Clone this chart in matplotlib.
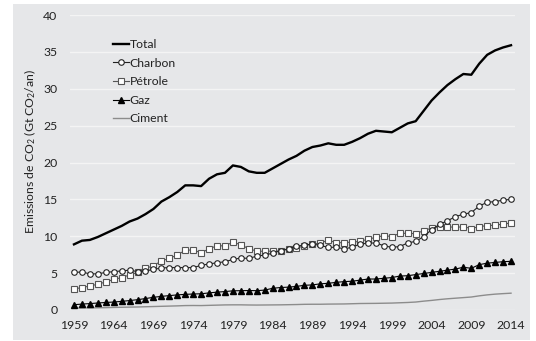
import matplotlib.pyplot as plt
import numpy as np
from matplotlib.patches import Rectangle

plt.rcParams['font.family'] = ['Lato', 'DejaVu Sans']
plt.rcParams['mathtext.fontset'] = 'custom'
plt.rcParams['mathtext.rm'] = 'Lato'
plt.rcParams['mathtext.it'] = 'Lato:italic'

###################### Data (Gt CO2 / an) ##########################

years = list(range(1959, 2015))

total = [8.9, 9.4, 9.5, 9.9, 10.4, 10.9, 11.4, 12.0, 12.4, 13.0,
         13.7, 14.7, 15.3, 16.0, 16.9, 16.9, 16.8, 17.8, 18.4, 18.6,
         19.6, 19.4, 18.8, 18.6, 18.6, 19.2, 19.8, 20.4, 20.9, 21.6,
         22.1, 22.3, 22.6, 22.4, 22.4, 22.8, 23.3, 23.9, 24.3, 24.2,
         24.1, 24.7, 25.3, 25.6, 27.0, 28.4, 29.5, 30.5, 31.3, 32.0,
         31.9, 33.4, 34.6, 35.2, 35.6, 35.9]

charbon = [5.1, 5.15, 4.9, 4.9, 5.1, 5.2, 5.3, 5.4, 5.2, 5.3,
           5.5, 5.7, 5.75, 5.75, 5.75, 5.75, 6.05, 6.25, 6.4, 6.55,
           6.85, 7.05, 7.0, 7.3, 7.45, 7.7, 8.05, 8.3, 8.65, 8.8,
           8.95, 8.75, 8.5, 8.5, 8.3, 8.5, 8.95, 9.05, 9.1, 8.7,
           8.5, 8.6, 9.1, 9.3, 9.95, 10.9, 11.6, 12.1, 12.65, 13.0,
           13.2, 14.1, 14.6, 14.7, 14.9, 15.0]

petrole = [2.85, 3.05, 3.25, 3.5, 3.8, 4.15, 4.4, 4.75, 5.1, 5.65,
           6.0, 6.65, 7.0, 7.45, 8.1, 8.15, 7.75, 8.3, 8.7, 8.7,
           9.2, 8.85, 8.3, 8.0, 7.95, 8.0, 8.0, 8.25, 8.4, 8.7,
           8.95, 9.05, 9.5, 9.1, 9.15, 9.2, 9.3, 9.6, 9.85, 10.1,
           9.95, 10.4, 10.4, 10.35, 10.75, 11.1, 11.3, 11.3, 11.2, 11.3,
           11.05, 11.3, 11.45, 11.5, 11.65, 11.8]

gaz = [0.72, 0.8, 0.87, 0.95, 1.02, 1.08, 1.17, 1.28, 1.4, 1.55,
       1.72, 1.85, 1.95, 2.05, 2.12, 2.17, 2.2, 2.32, 2.42, 2.5,
       2.6, 2.62, 2.64, 2.62, 2.7, 2.94, 3.05, 3.1, 3.2, 3.35,
       3.4, 3.55, 3.62, 3.75, 3.85, 3.9, 4.05, 4.2, 4.2, 4.3,
       4.4, 4.6, 4.65, 4.8, 4.95, 5.1, 5.25, 5.4, 5.55, 5.8,
       5.65, 6.15, 6.35, 6.45, 6.55, 6.6]

ciment = [0.25, 0.27, 0.28, 0.3, 0.32, 0.35, 0.37, 0.39, 0.41, 0.44,
          0.47, 0.5, 0.53, 0.56, 0.6, 0.61, 0.6, 0.63, 0.66, 0.69,
          0.7, 0.7, 0.68, 0.67, 0.68, 0.69, 0.7, 0.72, 0.74, 0.77,
          0.78, 0.78, 0.8, 0.81, 0.82, 0.85, 0.88, 0.89, 0.9, 0.92,
          0.94, 0.98, 1.02, 1.08, 1.2, 1.3, 1.42, 1.52, 1.6, 1.68,
          1.76, 1.92, 2.05, 2.15, 2.22, 2.28]

tick_years = years[::5]

###################### Figure ##########################

bg = '#e6e7e9'
fig = plt.figure(figsize=(5.36, 3.41), dpi=100, facecolor='white')
fig.add_artist(Rectangle((13 / 536, 1 - 340 / 341), 517 / 536, 336 / 341,
                         transform=fig.transFigure, facecolor=bg,
                         edgecolor='none', zorder=-10))
ax = fig.add_axes([70 / 536, 1 - 310 / 341, 445 / 536, 295 / 341])
ax.set_facecolor('none')

x = np.arange(len(years))
ax.plot(x, total, color='black', lw=1.7, label='Total', zorder=5)
ax.plot(x, charbon, color='#222222', lw=0.8, marker='o', ms=4,
        mfc='white', mec='#222222', mew=0.8, label='Charbon', zorder=4)
ax.plot(x, petrole, color='#555555', lw=0.8, marker='s', ms=5,
        mfc='white', mec='#555555', mew=0.8, label='Pétrole', zorder=3)
ax.plot(x, gaz, color='black', lw=0.8, marker='^', ms=4,
        mfc='black', mec='black', label='Gaz', zorder=4)
ax.plot(x, ciment, color='#8c8c8c', lw=1.0, label='Ciment', zorder=2)

ax.set_xlim(-0.5, len(years) - 0.5)
ax.set_ylim(0, 40)
ax.set_yticks(range(0, 41, 5))
ax.set_xticks([years.index(y) for y in tick_years])
ax.set_xticklabels([str(y) for y in tick_years])
ax.tick_params(axis='both', length=0, labelsize=8.8, colors='#222222')
ax.tick_params(axis='y', pad=9)
ax.tick_params(axis='x', pad=7)
ax.grid(axis='y', color='#f4f4f4', lw=1)
ax.set_axisbelow(True)
for s in ax.spines.values():
    s.set_visible(False)

fig.text(30 / 536, 1 - 151 / 341, 'Emissions de CO$_2$ (Gt CO$_2$/an)',
         rotation=90, ha='center', va='center', fontsize=8.8, color='#222222')

leg = ax.legend(loc='upper left', bbox_to_anchor=(0.085, 0.935), frameon=False,
                fontsize=8.8, handlelength=1.3, handletextpad=0.1,
                labelspacing=0.62, numpoints=1, borderaxespad=0)
for t in leg.get_texts():
    t.set_color('#222222')

fig.savefig('out.png', dpi=100, facecolor='white')
